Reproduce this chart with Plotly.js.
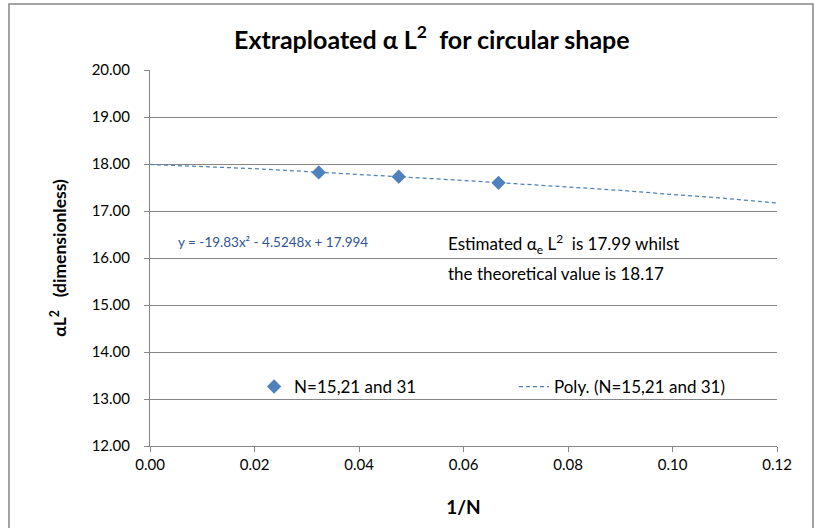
<!DOCTYPE html>
<html>
<head>
<meta charset="utf-8">
<script src="https://cdn.plot.ly/plotly-3.0.1.min.js"></script>
<style>html,body{margin:0;padding:0;background:#fff;}#chart{width:821px;height:528px;}</style>
</head>
<body>
<div id="chart"></div>
<script>
// Data points (1/N for N = 31, 21, 15)
const pointX = [0.0323, 0.0476, 0.0667];
const pointY = [17.82, 17.73, 17.60];
const pointName = "N=15,21 and 31";

// Polynomial trend line
const trendX = [0.00, 0.01, 0.02, 0.03, 0.04, 0.05, 0.06, 0.07, 0.08, 0.09, 0.10, 0.11, 0.12];
const trendY = [17.99, 17.95, 17.90, 17.84, 17.78, 17.72, 17.65, 17.58, 17.51, 17.44, 17.35, 17.27, 17.17];
const trendName = "Poly. (N=15,21 and 31)";

const xTicks = [0, 0.02, 0.04, 0.06, 0.08, 0.10, 0.12];
const yTicks = [12, 13, 14, 15, 16, 17, 18, 19, 20];

const FONT = "Lato, 'Open Sans', sans-serif";
const GRID = "#868686";

const traces = [
  {
    x: pointX, y: pointY, name: pointName, type: "scatter", mode: "markers",
    marker: {symbol: "diamond", size: 11, color: "#4F81BD"}, legend: "legend"
  },
  {
    x: trendX, y: trendY, name: trendName, type: "scatter", mode: "lines",
    line: {color: "#4F81BD", width: 1.25, dash: "4px,3px"}, legend: "legend2"
  }
];

const legendBase = {
  orientation: "h", xanchor: "left", y: 0.157, yanchor: "middle",
  bgcolor: "rgba(0,0,0,0)", font: {family: FONT, size: 17, color: "#000"}
};

const layout = {
  width: 821, height: 528,
  margin: {l: 150, r: 44, t: 70, b: 82},
  paper_bgcolor: "#fff", plot_bgcolor: "#fff",
  font: {family: FONT, size: 15, color: "#000"},
  title: {
    text: "<b>Extraploated α L<sup>2</sup>  for circular shape</b>",
    font: {family: FONT, size: 25, color: "#000"},
    x: 0.526, xref: "container", xanchor: "center",
    y: 0.924, yref: "container", yanchor: "middle"
  },
  xaxis: {
    range: [0, 0.12], tickvals: xTicks, tickformat: ".2f",
    showgrid: false, zeroline: false,
    showline: true, linecolor: GRID, linewidth: 1,
    ticks: "outside", ticklen: 5, tickcolor: GRID,
    tickfont: {family: FONT, size: 15},
    title: {text: "<b>1/N</b>", font: {family: FONT, size: 19}, standoff: 28}
  },
  yaxis: {
    range: [12, 20], tickvals: yTicks, tickformat: ".2f",
    showgrid: true, gridcolor: GRID, gridwidth: 1, zeroline: false,
    showline: true, linecolor: GRID, linewidth: 1,
    ticks: "outside", ticklen: 5, tickcolor: GRID,
    ticklabelstandoff: 11,
    tickfont: {family: FONT, size: 15},
    title: {text: "<b>αL<sup>2</sup>   (dimensionless)</b>", font: {family: FONT, size: 17.5}, standoff: 20}
  },
  showlegend: true,
  legend: Object.assign({}, legendBase, {x: 0.166}),
  legend2: Object.assign({}, legendBase, {x: 0.5805}),
  annotations: [
    {
      x: 0.0050, y: 16.34, xref: "x", yref: "y", xanchor: "left", yanchor: "middle",
      text: "y = -19.83x² - 4.5248x + 17.994", showarrow: false,
      font: {family: FONT, size: 13.5, color: "#2F5597"}
    },
    {
      x: 0.0566, y: 16.30, xref: "x", yref: "y", xanchor: "left", yanchor: "middle",
      text: "Estimated α<sub>e</sub> L<sup>2</sup>  is 17.99 whilst",
      showarrow: false,
      font: {family: FONT, size: 17, color: "#000"}
    },
    {
      x: 0.0566, y: 15.68, xref: "x", yref: "y", xanchor: "left", yanchor: "middle",
      text: "the theoretical value is 18.17",
      showarrow: false,
      font: {family: FONT, size: 17, color: "#000"}
    }
  ],
  shapes: [
    {type: "rect", xref: "paper", yref: "paper",
     x0: -0.2249, x1: 1.0574, y0: -0.3, y1: 1.1755,
     line: {color: "#868686", width: 1.5}, fillcolor: "rgba(0,0,0,0)", layer: "below"}
  ]
};

Plotly.newPlot("chart", traces, layout, {displayModeBar: false, staticPlot: true});
</script>
</body>
</html>
